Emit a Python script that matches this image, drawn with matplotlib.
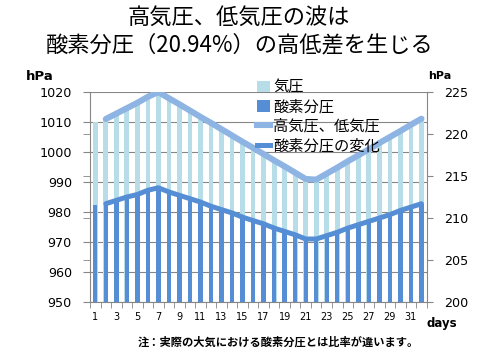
import matplotlib
matplotlib.use("Agg")
import matplotlib.pyplot as plt
from matplotlib.patches import Patch
from matplotlib.lines import Line2D
from matplotlib.font_manager import FontProperties

# data
days = list(range(1, 33))
pressure = [1010.0, 1011.0, 1012.8, 1014.6, 1016.4, 1018.4, 1020.0, 1017.9,
            1015.9, 1013.8, 1011.7, 1009.7, 1007.6, 1005.5, 1003.4, 1001.4,
            999.3, 997.2, 995.2, 993.1, 991.0, 990.8, 992.8, 994.8,
            996.9, 998.9, 1000.9, 1003.0, 1005.0, 1007.0, 1009.1, 1011.1]
oxygen = [211.5, 211.7, 212.1, 212.5, 212.8, 213.3, 213.6, 213.1,
          212.7, 212.3, 211.9, 211.4, 211.0, 210.6, 210.1, 209.7,
          209.3, 208.8, 208.4, 208.0, 207.5, 207.5, 207.9, 208.3,
          208.8, 209.2, 209.6, 210.0, 210.4, 210.9, 211.3, 211.7]
# the two lines start on day 2
line_days = days[1:]
pressure_line = pressure[1:]
oxygen_line = oxygen[1:]

x_labels = list(range(1, 32, 2))
left_ticks = list(range(950, 1030, 10))
right_ticks = list(range(200, 230, 5))

legend_labels = ["気圧", "酸素分圧", "高気圧、低気圧", "酸素分圧の変化"]
title1 = "高気圧、低気圧の波は"
title2 = "酸素分圧（20.94%）の高低差を生じる"
note = "注：実際の大気における酸素分圧とは比率が違います。"

light_bar = "#B7DDE8"
dark_blue = "#558ED5"
light_line = "#8EB4E3"
grey = "#868686"

cjk = ["Noto Sans CJK JP", "DejaVu Sans"]

fig = plt.figure(figsize=(4.8, 3.6), dpi=100)
ax1 = fig.add_axes([0.1875, 0.1611, 0.7015, 0.5833])
ax2 = ax1.twinx()

# primary axis: air pressure
ax1.bar(days, pressure, width=0.45, color=light_bar, zorder=2)
ax1.plot(line_days, pressure_line, color=light_line, lw=4.4,
         solid_capstyle="round", solid_joinstyle="round", zorder=3)
ax1.set_ylim(950, 1020)
ax1.set_yticks(left_ticks)
ax1.set_yticks([964, 978, 992, 1006], minor=True)
ax1.grid(axis="y", color=grey, lw=0.8)
ax1.set_axisbelow(True)

# secondary axis: oxygen partial pressure
ax2.bar(days, oxygen, width=0.42, color=dark_blue, zorder=2)
ax2.plot(line_days, oxygen_line, color=dark_blue, lw=3.6,
         solid_capstyle="round", solid_joinstyle="round", zorder=3)
ax2.set_ylim(200, 225)
ax2.set_yticks(right_ticks)

ax1.set_xlim(0.5, 32.5)
ax1.set_xticks(x_labels)
ax1.set_xticks([d + 0.5 for d in range(0, 33)], minor=True)
ax1.tick_params(axis="x", which="major", length=0, pad=7, labelsize=7)
ax1.tick_params(axis="x", which="minor", length=4, color=grey, direction="out")
ax1.tick_params(axis="y", which="both", length=5, color=grey, direction="out",
                pad=8, labelsize=9.2)
ax2.tick_params(axis="y", length=4, color=grey, direction="out",
                pad=8.6, labelsize=9.2)

for s in ["top", "right"]:
    ax1.spines[s].set_visible(False)
for s in ["top", "left", "bottom"]:
    ax2.spines[s].set_visible(False)
ax1.spines["left"].set_color(grey)
ax1.spines["bottom"].set_color(grey)
ax2.spines["right"].set_color(grey)

handles = [Patch(facecolor=light_bar), Patch(facecolor=dark_blue),
           Line2D([], [], color=light_line, lw=4.4),
           Line2D([], [], color=dark_blue, lw=3.6)]
ax2.legend(handles, legend_labels, loc="upper left", bbox_to_anchor=(0.49, 1.07),
           prop=FontProperties(family=cjk, size=11), frameon=False,
           borderpad=0.1, labelspacing=0.16, handlelength=0.9, handleheight=0.8,
           handletextpad=0.2, borderaxespad=0)

fig.text(40 / 480, 1 - 76.7 / 360, "hPa", fontsize=9.5, fontweight="bold",
         ha="center", va="center")
fig.text(440 / 480, 1 - 75.7 / 360, "hPa", fontsize=8, fontweight="bold",
         ha="center", va="center")
fig.text(441.5 / 480, 1 - 324 / 360, "days", fontsize=8.5, fontweight="bold",
         ha="center", va="center")
fig.text(278 / 480, 1 - 342 / 360, note, family=cjk, fontsize=8.1,
         fontweight="bold", ha="center", va="center")
fig.text(238.5 / 480, 1 - 17 / 360, title1, family=cjk, fontsize=16,
         ha="center", va="center")
fig.text(240 / 480, 1 - 45 / 360, title2, family=cjk, fontsize=16,
         ha="center", va="center")

fig.savefig("out.png", dpi=100)
